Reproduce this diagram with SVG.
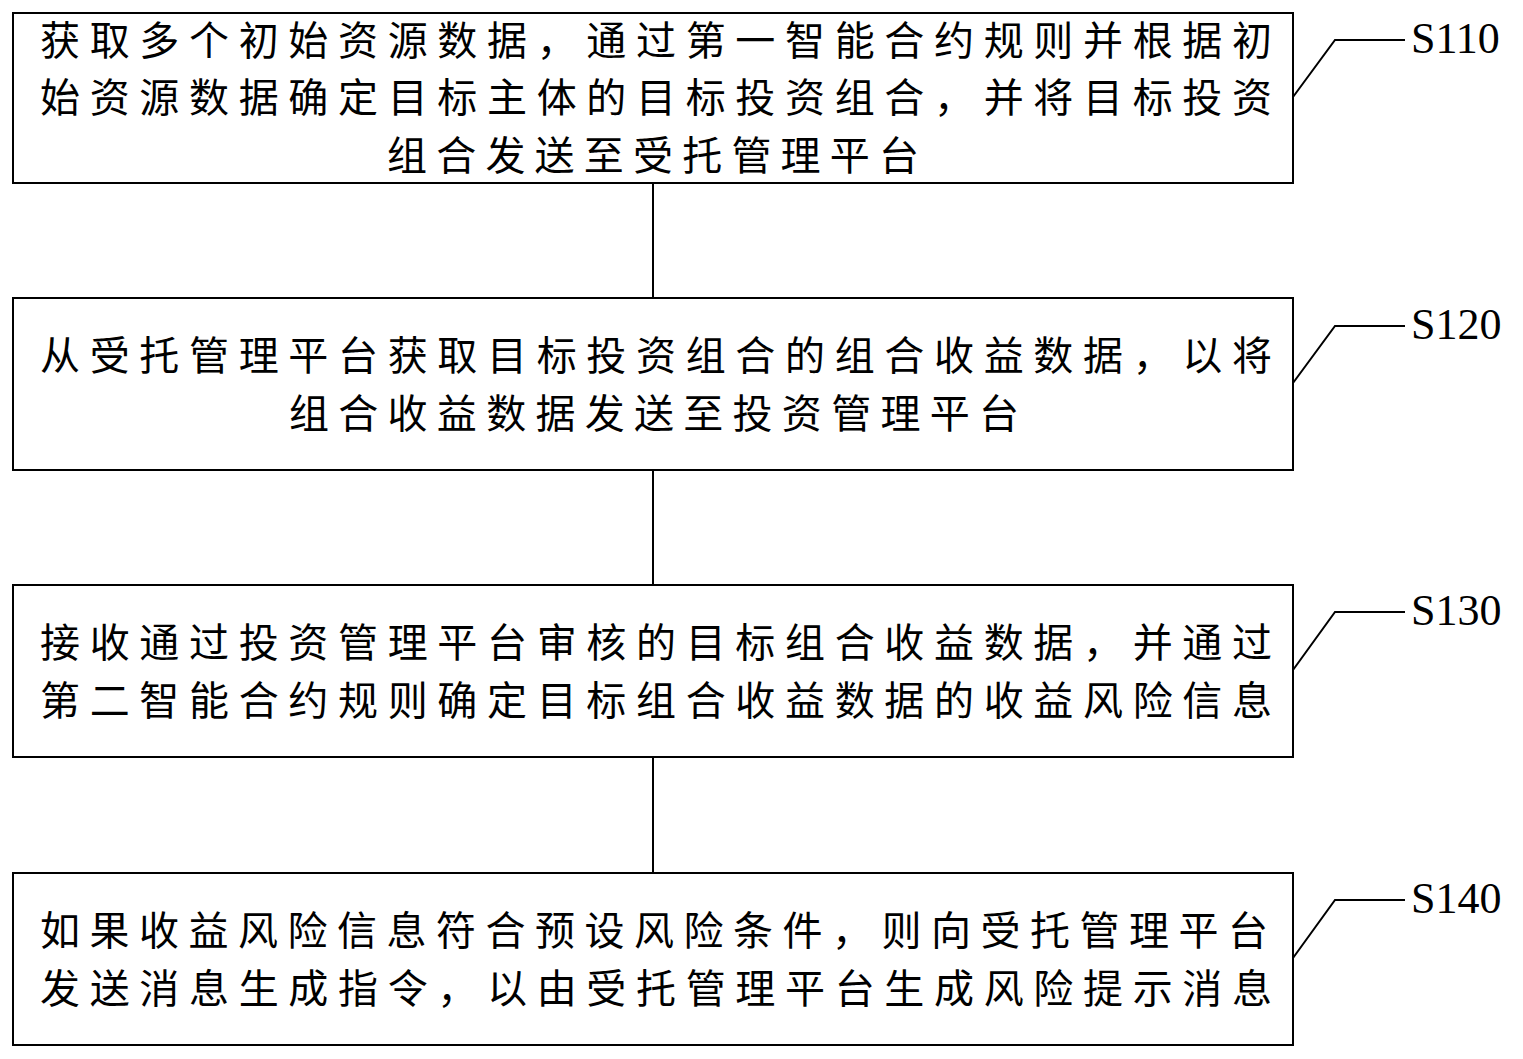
<svg xmlns="http://www.w3.org/2000/svg" width="1523" height="1059" viewBox="0 0 1523 1059">
<style>
.b{fill:#fff;stroke:#000;stroke-width:2}
line,polyline{stroke:#000;stroke-width:2;fill:none}
.t{font-family:"Noto Sans CJK SC","Noto Serif CJK SC",sans-serif;font-size:40px;fill:#000}
.l{font-family:"Liberation Serif",serif;font-size:44px;fill:#000}
</style>
<rect width="1523" height="1059" fill="#fff"/>
<g id="connectors">
<line x1="653" y1="183" x2="653" y2="298"/>
<line x1="653" y1="470" x2="653" y2="585"/>
<line x1="653" y1="757" x2="653" y2="873"/>
<polyline points="1293,97 1335,40 1405,40"/>
<polyline points="1293,383 1335,326 1405,326"/>
<polyline points="1293,670 1335,612 1405,612"/>
<polyline points="1293,958 1335,900 1405,900"/>
</g>
<g id="s110">
<rect class="b" x="13" y="13" width="1280" height="170"/>
<text class="t" x="40" y="55" textLength="1232" lengthAdjust="spacing">获取多个初始资源数据，通过第一智能合约规则并根据初</text>
<text class="t" x="40" y="112" textLength="1232" lengthAdjust="spacing">始资源数据确定目标主体的目标投资组合，并将目标投资</text>
<text class="t" x="653" y="170" text-anchor="middle" textLength="532" lengthAdjust="spacing">组合发送至受托管理平台</text>
<text class="l" x="1411" y="53">S110</text>
</g>
<g id="s120">
<rect class="b" x="13" y="298" width="1280" height="172"/>
<text class="t" x="40" y="370" textLength="1232" lengthAdjust="spacing">从受托管理平台获取目标投资组合的组合收益数据，以将</text>
<text class="t" x="654" y="428" text-anchor="middle" textLength="730" lengthAdjust="spacing">组合收益数据发送至投资管理平台</text>
<text class="l" x="1411" y="339">S120</text>
</g>
<g id="s130">
<rect class="b" x="13" y="585" width="1280" height="172"/>
<text class="t" x="40" y="657" textLength="1232" lengthAdjust="spacing">接收通过投资管理平台审核的目标组合收益数据，并通过</text>
<text class="t" x="40" y="715" textLength="1232" lengthAdjust="spacing">第二智能合约规则确定目标组合收益数据的收益风险信息</text>
<text class="l" x="1411" y="625">S130</text>
</g>
<g id="s140">
<rect class="b" x="13" y="873" width="1280" height="172"/>
<text class="t" x="40" y="945" textLength="1228" lengthAdjust="spacing">如果收益风险信息符合预设风险条件，则向受托管理平台</text>
<text class="t" x="40" y="1003" textLength="1232" lengthAdjust="spacing">发送消息生成指令，以由受托管理平台生成风险提示消息</text>
<text class="l" x="1411" y="913">S140</text>
</g>
</svg>
